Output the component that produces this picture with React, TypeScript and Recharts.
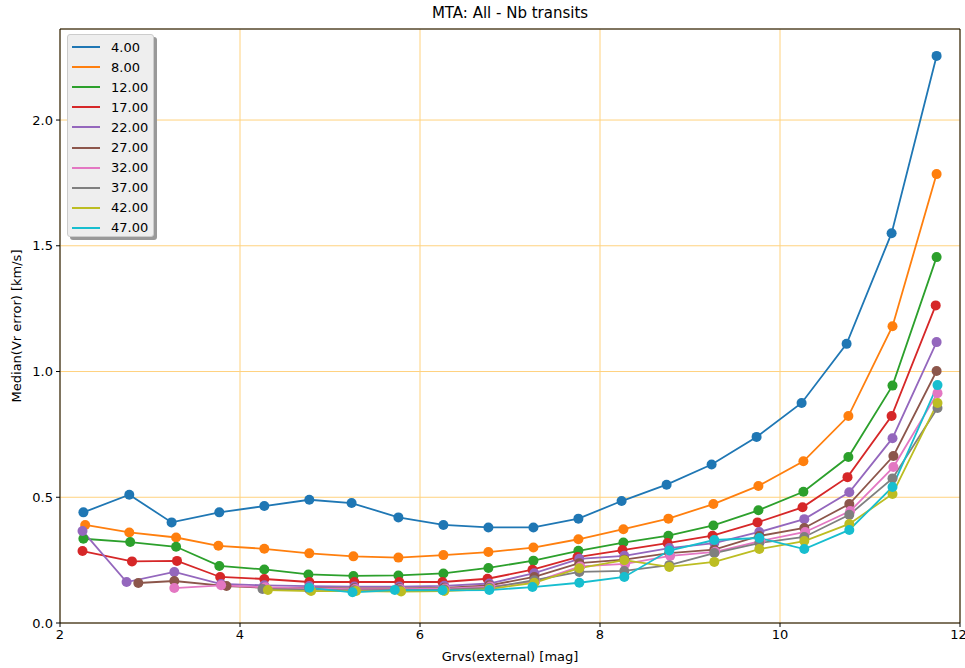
import React from "react";
import {
  LineChart,
  Line,
  XAxis,
  YAxis,
  CartesianGrid,
  ReferenceLine,
} from "recharts";

// ---- data ----
const seriesNames = ["4.00", "8.00", "12.00", "17.00", "22.00", "27.00", "32.00", "37.00", "42.00", "47.00"];
const colors = ["#1f77b4", "#ff7f0e", "#2ca02c", "#d62728", "#9467bd", "#8c564b", "#e377c2", "#7f7f7f", "#bcbd22", "#17becf"];

const x4 = [2.26, 2.77, 3.24, 3.77, 4.27, 4.77, 5.24, 5.76, 6.26, 6.76, 7.26, 7.76, 8.24, 8.74, 9.24, 9.74, 10.24, 10.74, 11.24, 11.74];
const y4 = [0.44, 0.51, 0.40, 0.44, 0.465, 0.49, 0.477, 0.42, 0.39, 0.38, 0.38, 0.415, 0.485, 0.55, 0.63, 0.74, 0.875, 1.11, 1.55, 2.255];

const x8 = [2.28, 2.77, 3.29, 3.76, 4.27, 4.77, 5.26, 5.76, 6.26, 6.76, 7.26, 7.76, 8.26, 8.76, 9.26, 9.76, 10.26, 10.76, 11.25, 11.74];
const y8 = [0.39, 0.36, 0.34, 0.307, 0.295, 0.277, 0.265, 0.26, 0.27, 0.282, 0.30, 0.333, 0.373, 0.415, 0.473, 0.545, 0.643, 0.823, 1.18, 1.785];

const x12 = [2.26, 2.78, 3.29, 3.77, 4.27, 4.76, 5.26, 5.76, 6.26, 6.76, 7.26, 7.76, 8.26, 8.76, 9.26, 9.76, 10.26, 10.76, 11.25, 11.74];
const y12 = [0.335, 0.322, 0.303, 0.227, 0.213, 0.193, 0.187, 0.189, 0.197, 0.219, 0.248, 0.287, 0.32, 0.347, 0.388, 0.448, 0.522, 0.66, 0.944, 1.455];

const x17 = [2.25, 2.80, 3.30, 3.78, 4.27, 4.77, 5.27, 5.77, 6.25, 6.75, 7.25, 7.75, 8.25, 8.75, 9.25, 9.75, 10.25, 10.75, 11.24, 11.73];
const y17 = [0.286, 0.245, 0.247, 0.183, 0.175, 0.163, 0.163, 0.163, 0.163, 0.176, 0.212, 0.262, 0.29, 0.318, 0.347, 0.40, 0.46, 0.58, 0.823, 1.263];

const x22 = [2.25, 2.74, 3.27, 3.79, 4.27, 4.77, 5.27, 5.77, 6.27, 6.77, 7.27, 7.77, 8.27, 8.77, 9.27, 9.77, 10.27, 10.77, 11.25, 11.74];
const y22 = [0.366, 0.163, 0.203, 0.155, 0.15, 0.147, 0.145, 0.145, 0.148, 0.157, 0.198, 0.255, 0.267, 0.298, 0.318, 0.362, 0.413, 0.52, 0.735, 1.117];

const x27 = [2.87, 3.27, 3.85, 4.27, 4.77, 5.27, 5.77, 6.27, 6.77, 7.27, 7.77, 8.27, 8.77, 9.27, 9.77, 10.27, 10.77, 11.26, 11.74];
const y27 = [0.159, 0.167, 0.147, 0.14, 0.14, 0.138, 0.138, 0.14, 0.15, 0.183, 0.238, 0.252, 0.278, 0.292, 0.346, 0.378, 0.473, 0.664, 1.002];

const x32 = [3.27, 3.79, 4.28, 4.78, 5.28, 5.78, 6.28, 6.78, 7.28, 7.78, 8.28, 8.78, 9.28, 9.78, 10.28, 10.78, 11.26, 11.75];
const y32 = [0.139, 0.15, 0.142, 0.138, 0.135, 0.135, 0.137, 0.145, 0.165, 0.225, 0.235, 0.267, 0.283, 0.326, 0.362, 0.445, 0.62, 0.914];

const x37 = [4.25, 4.77, 5.27, 5.77, 6.27, 6.77, 7.27, 7.77, 8.27, 8.77, 9.27, 9.77, 10.27, 10.77, 11.25, 11.75];
const y37 = [0.135, 0.133, 0.13, 0.132, 0.133, 0.14, 0.17, 0.203, 0.207, 0.23, 0.278, 0.318, 0.342, 0.43, 0.575, 0.855];

const x42 = [4.31, 4.79, 5.29, 5.79, 6.27, 6.77, 7.27, 7.77, 8.27, 8.77, 9.27, 9.77, 10.27, 10.77, 11.25, 11.75];
const y42 = [0.131, 0.127, 0.127, 0.125, 0.127, 0.135, 0.16, 0.218, 0.25, 0.223, 0.243, 0.294, 0.326, 0.394, 0.513, 0.875];

const x47 = [4.77, 5.25, 5.72, 6.25, 6.77, 7.25, 7.77, 8.27, 8.77, 9.27, 9.77, 10.27, 10.77, 11.25, 11.75];
const y47 = [0.14, 0.122, 0.131, 0.13, 0.131, 0.143, 0.16, 0.183, 0.288, 0.33, 0.338, 0.294, 0.37, 0.541, 0.946];

const xTicks = [2, 4, 6, 8, 10, 12];
const yTicks = [0, 0.5, 1.0, 1.5, 2.0];

const allX = [x4, x8, x12, x17, x22, x27, x32, x37, x42, x47];
const allY = [y4, y8, y12, y17, y22, y27, y32, y37, y42, y47];

const series = seriesNames.map((name, i) => ({
  name,
  color: colors[i],
  data: allX[i].map((x, j) => ({ x, y: allY[i][j] })),
}));

const FONT = "DejaVu Sans, sans-serif";

const LegendBox = () => (
  <div
    style={{
      position: "absolute",
      left: 67,
      top: 34,
      width: 87,
      height: 203,
      background: "#eeeeee",
      border: "1px solid #cccccc",
      borderRadius: 3,
      boxShadow: "3px 3px 0 #999999",
      boxSizing: "border-box",
      paddingTop: 2,
      fontFamily: FONT,
    }}
  >
    {series.map((s) => (
      <div key={s.name} style={{ display: "flex", alignItems: "center", height: 20.1 }}>
        <div style={{ width: 28, height: 2, background: s.color, marginLeft: 4 }} />
        <span style={{ marginLeft: 11, fontSize: 13, color: "#000" }}>{s.name}</span>
      </div>
    ))}
  </div>
);

export default function App() {
  return (
    <div style={{ position: "absolute", left: 0, top: 0, width: 965, height: 668, background: "#fff" }}>
      <LineChart
        width={965}
        height={668}
        margin={{ top: 29, right: 5, bottom: 15, left: 10 }}
      >
        <CartesianGrid stroke="#ffd27f" strokeWidth={1} />
        <XAxis
          type="number"
          dataKey="x"
          domain={[2, 12]}
          ticks={xTicks}
          allowDataOverflow
          height={30}
          tickSize={4}
          tickMargin={3}
          stroke="#000"
          tick={{ fill: "#000", fontSize: 13, fontFamily: FONT }}
          tickFormatter={(v: number) => String(v)}
          label={{
            content: () => (
              <text x={510} y={661} textAnchor="middle" fontSize={13} fontFamily={FONT} fill="#000">
                Grvs(external) [mag]
              </text>
            ),
          }}
        />
        <YAxis
          type="number"
          domain={[0, 2.362]}
          ticks={yTicks}
          allowDataOverflow
          width={50}
          tickSize={4}
          tickMargin={3}
          stroke="#000"
          tick={{ fill: "#000", fontSize: 13, fontFamily: FONT }}
          tickFormatter={(v: number) => v.toFixed(1)}
          label={{
            content: () => (
              <text
                x={21}
                y={326}
                transform="rotate(-90 21 326)"
                textAnchor="middle"
                fontSize={13}
                fontFamily={FONT}
                fill="#000"
              >
                Median(Vr error) [km/s]
              </text>
            ),
          }}
        />
        <ReferenceLine y={2.362} stroke="#000" strokeWidth={1} />
        <ReferenceLine x={12} stroke="#000" strokeWidth={1} />
        {series.map((s) => (
          <Line
            key={s.name}
            name={s.name}
            data={s.data}
            dataKey="y"
            type="linear"
            stroke={s.color}
            strokeWidth={1.8}
            dot={{ r: 5, fill: s.color, stroke: s.color, strokeWidth: 0 }}
            activeDot={false}
            isAnimationActive={false}
          />
        ))}
      </LineChart>
      <LegendBox />
      <div
        style={{
          position: "absolute",
          left: 0,
          top: 4,
          width: 1020,
          textAlign: "center",
          fontFamily: FONT,
          fontSize: 15,
          color: "#000",
        }}
      >
        MTA: All - Nb transits
      </div>
    </div>
  );
}
